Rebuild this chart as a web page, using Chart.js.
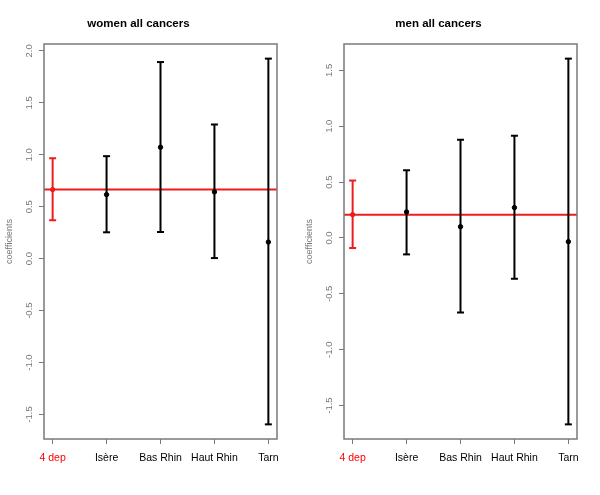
<!DOCTYPE html>
<html>
<head>
<meta charset="utf-8">
<script src="https://cdn.jsdelivr.net/npm/chart.js@4"></script>
<style>
  html, body { margin: 0; padding: 0; background: #ffffff; }
  #wrap { position: relative; width: 600px; height: 495px; }
  .panel { position: absolute; top: 0; width: 300px; height: 495px; }
</style>
</head>
<body>
<div id="wrap">
  <div class="panel" style="left:0px"><canvas id="cWomen" width="300" height="495"></canvas></div>
  <div class="panel" style="left:300px"><canvas id="cMen" width="300" height="495"></canvas></div>
</div>
<script>
// ---- data ----
const categories = ['4 dep', 'Isère', 'Bas Rhin', 'Haut Rhin', 'Tarn'];

const womenEst  = [0.665, 0.617, 1.073, 0.643, 0.160];
const womenLow  = [0.370, 0.254, 0.257, 0.006, -1.595];
const womenHigh = [0.967, 0.987, 1.893, 1.292, 1.926];
const womenRef  = 0.665;

const menEst  = [0.209, 0.233, 0.101, 0.272, -0.033];
const menLow  = [-0.090, -0.147, -0.667, -0.365, -1.668];
const menHigh = [0.514, 0.606, 0.879, 0.915, 1.605];
const menRef  = 0.209;

const yTickStep = 0.5;
const titles = ['women all cancers', 'men all cancers'];
const yTitle = 'coefficients';

// ---- styling ----
const FONT = "'Liberation Sans', Arial, Helvetica, sans-serif";
const RED = '#ee1c1c';
const AXIS_GREY = '#7a7a7a';

const boxPlugin = {
  id: 'rbox',
  afterDraw(chart) {
    const a = chart.chartArea, ctx = chart.ctx;
    ctx.save();
    ctx.strokeStyle = AXIS_GREY;
    ctx.lineWidth = 1.5;
    ctx.strokeRect(a.left, a.top, a.right - a.left, a.bottom - a.top);
    ctx.restore();
  }
};

function makeChart(id, title, est, low, high, ref) {
  const n = categories.length;
  const yLo = Math.min(...low), yHi = Math.max(...high);
  const yPad = (yHi - yLo) * 0.04;
  const xPad = (n - 1) * 0.04;
  const xMin = -xPad, xMax = n - 1 + xPad;

  const barData = (idxs) => idxs.flatMap(i => [
    { x: i, y: low[i] }, { x: i, y: high[i] }, { x: i, y: null }
  ]);
  const blackIdx = categories.map((_, i) => i).filter(i => i > 0);

  new Chart(document.getElementById(id), {
    type: 'scatter',
    data: {
      datasets: [
        { // reference line
          data: [{ x: xMin, y: ref }, { x: xMax, y: ref }],
          showLine: true, borderColor: RED, borderWidth: 2,
          pointRadius: 0, order: 3
        },
        { // red error bar
          data: barData([0]),
          showLine: true, spanGaps: false, borderColor: RED, borderWidth: 2,
          pointStyle: 'line', pointRadius: 3.5, pointBorderWidth: 2,
          pointBorderColor: RED, order: 2
        },
        { // black error bars
          data: barData(blackIdx),
          showLine: true, spanGaps: false, borderColor: '#000000', borderWidth: 2,
          pointStyle: 'line', pointRadius: 3.5, pointBorderWidth: 2,
          pointBorderColor: '#000000', order: 2
        },
        { // estimates
          data: est.map((v, i) => ({ x: i, y: v })),
          showLine: false,
          pointStyle: 'circle', pointRadius: 2.2, pointBorderWidth: 1,
          pointBackgroundColor: est.map((_, i) => i === 0 ? RED : '#000000'),
          pointBorderColor: est.map((_, i) => i === 0 ? RED : '#000000'),
          order: 1
        }
      ]
    },
    options: {
      responsive: false,
      animation: false,
      devicePixelRatio: 1,
      layout: { padding: { left: 0, right: 23, top: 0, bottom: 0 } },
      plugins: {
        legend: { display: false },
        tooltip: { enabled: false },
        title: {
          display: true, text: title, color: '#000000',
          font: { family: FONT, size: 11.5, weight: 'bold' },
          padding: { top: 16.5, bottom: 13.7 }
        }
      },
      scales: {
        x: {
          type: 'linear', min: xMin, max: xMax,
          border: { display: false },
          grid: { display: true, drawOnChartArea: false, drawTicks: true, tickLength: 5, tickColor: AXIS_GREY, tickWidth: 1 },
          ticks: {
            stepSize: 1, includeBounds: false, autoSkip: false,
            minRotation: 0, maxRotation: 0, padding: 7.5,
            font: { family: FONT, size: 10.5 },
            color: (c) => (c.tick && c.tick.value === 0) ? '#ff0000' : '#000000',
            callback: (v) => (Number.isInteger(v) && categories[v] !== undefined) ? categories[v] : ''
          },
          afterFit: (s) => { s.height = 56; }
        },
        y: {
          type: 'linear', min: yLo - yPad, max: yHi + yPad,
          border: { display: false },
          grid: { display: true, drawOnChartArea: false, drawTicks: true, tickLength: 5, tickColor: AXIS_GREY, tickWidth: 1 },
          title: {
            display: true, text: yTitle, color: '#777777',
            font: { family: FONT, size: 9 },
            padding: { top: 4, bottom: 0 }
          },
          ticks: {
            stepSize: yTickStep, includeBounds: false,
            minRotation: 90, maxRotation: 90, crossAlign: 'center', padding: 1.5,
            font: { family: FONT, size: 9.5 }, color: '#777777',
            callback: (v) => v.toFixed(1)
          },
          afterFit: (s) => { s.width = 44; }
        }
      }
    },
    plugins: [boxPlugin]
  });
}

makeChart('cWomen', titles[0], womenEst, womenLow, womenHigh, womenRef);
makeChart('cMen', titles[1], menEst, menLow, menHigh, menRef);
</script>
</body>
</html>
